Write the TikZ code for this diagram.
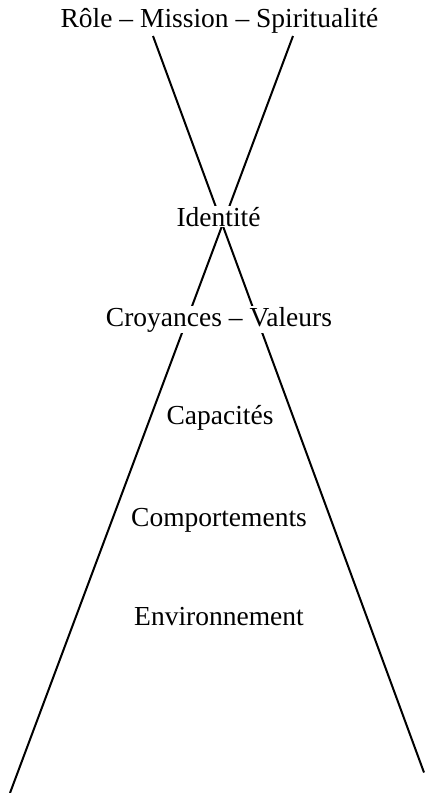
\documentclass[tikz,border=0pt]{standalone}
\usepackage{fontspec}
\setmainfont{Liberation Serif}
\begin{document}
\begin{tikzpicture}[x=1pt,y=-1pt,
  lbl/.style={fill=white,inner sep=1pt,font=\fontsize{27.5}{30}\selectfont,anchor=base},
  leg/.style={line width=2pt,line cap=butt}]
\useasboundingbox (0,0) rectangle (424,793);
\coordinate (tl) at (153,36);
\coordinate (tr) at (293,36);
\coordinate (bl) at (10,793);
\coordinate (br) at (424,772.5);
\draw[leg] (tl) -- (br);
\draw[leg] (tr) -- (bl);
\node[lbl] (role) at (219.5,27) {Rôle – Mission – Spiritualité};
\node[lbl] (ident) at (218.5,226) {Identité};
\node[lbl] (croy) at (219,326) {Croyances – Valeurs};
\node[lbl] (capa) at (220,424) {Capacités};
\node[lbl] (comp) at (219,526) {Comportements};
\node[lbl] (envi) at (219,625) {Environnement};
\end{tikzpicture}
\end{document}
